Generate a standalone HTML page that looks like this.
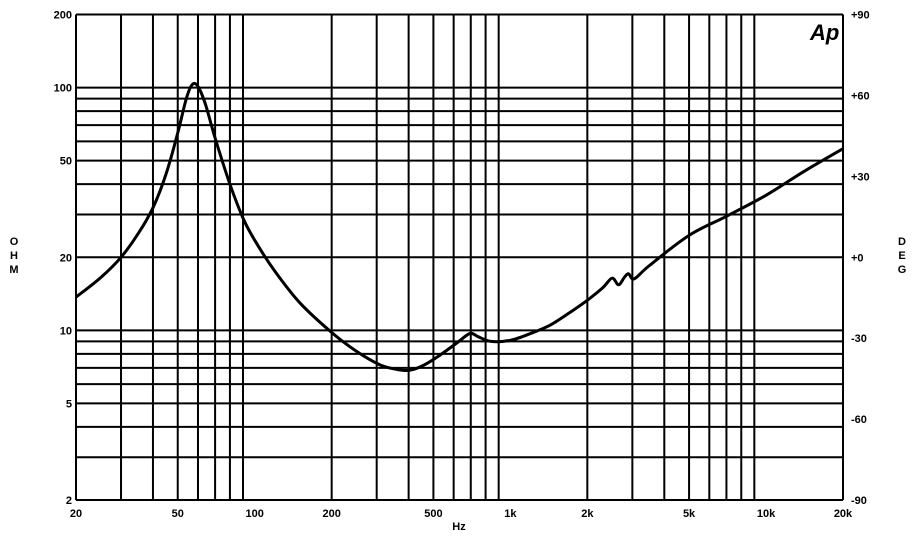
<!DOCTYPE html>
<html><head><meta charset="utf-8"><style>
body{margin:0;background:#fff;}
svg text{font-family:"Liberation Sans",sans-serif;font-weight:bold;font-size:11px;fill:#000;}
</style></head><body>
<svg id="chart" width="918" height="541" xmlns="http://www.w3.org/2000/svg">
<g id="grid"></g>
<g id="labels"></g>
<path id="curve" fill="none" stroke="#000" stroke-width="3" stroke-linejoin="round"/>
<text x="810" y="40" style="font-size:22px;font-style:italic;font-weight:bold">Ap</text>
</svg>
<script>
const freqs=[20,25,30,35,40,45,50,54,57,60,64,70,80,90,100,120,150,200,250,310,360,405,460,530,620,695,750,840,1000,1200,1430,1700,2000,2300,2500,2650,2800,2900,3050,3500,5000,7000,10000,14000,20000];
const ohms=[13.7,16.5,20,25,32,44,65,90,103,101,86,62,40,29,23.5,17.5,13,9.8,8.2,7.2,6.9,6.85,7.2,7.9,8.9,9.7,9.4,9.0,9.1,9.7,10.5,11.8,13.3,15,16.4,15.4,16.6,17.1,16.3,18.5,24.6,29.5,36,45,56];
const xTicks=[20,50,100,200,500,1000,2000,5000,10000,20000];
const xTickLabels=["20","50","100","200","500","1k","2k","5k","10k","20k"];
const yTicks=[2,5,10,20,50,100,200];
const yTickLabels=["2","5","10","20","50","100","200"];
const degLabels=["+90","+60","+30","+0","-30","-60","-90"];
const L=76,R=843,T=14.5,B=500;
const xs=f=>L+(R-L)*Math.log10(f/20)/3;
const ys=v=>B-(B-T)*Math.log10(v/2)/2;
const ns="http://www.w3.org/2000/svg";
const grid=document.getElementById('grid'),lab=document.getElementById('labels');
function line(x1,y1,x2,y2,name){const l=document.createElementNS(ns,'line');
l.setAttribute('x1',x1);l.setAttribute('y1',y1);l.setAttribute('x2',x2);l.setAttribute('y2',y2);
l.setAttribute('stroke','#000');l.setAttribute('stroke-width','2');


grid.appendChild(l);}
function txt(x,y,s,anchor,name){const t=document.createElementNS(ns,'text');
t.setAttribute('x',x);t.setAttribute('y',y);t.setAttribute('text-anchor',anchor);t.textContent=s;


lab.appendChild(t);}
[20,30,40,50,60,70,80,90].forEach(m=>[1,10,100].forEach(d=>{const f=m*d;if(f<=20000)line(xs(f),T,xs(f),B,'v-gridline');}));
line(xs(20000),T,xs(20000),B,'v-gridline');
[3,4,5,6,7,8,9,10,20,30,40,50,60,70,80,90,100,200].forEach(v=>line(L,ys(v),R,ys(v),'h-gridline'));
line(L,B,R,B,'x-axis');
xTicks.forEach((f,i)=>txt(xs(f),517,xTickLabels[i],'middle','x-tick-label'));
yTicks.forEach((v,i)=>txt(L-4,ys(v)+4,yTickLabels[i],'end','y-tick-label'));
degLabels.forEach((s,i)=>txt(R+8,T+(B-T)*i/6+4,s,'start','deg-tick-label'));
txt(459,530,'Hz','middle','x-axis-title');
['O','H','M'].forEach((c,i)=>txt(14,245+i*14,c,'middle','y-axis-title'));
['D','E','G'].forEach((c,i)=>txt(902,245+i*14,c,'middle','y2-axis-title'));
const P=freqs.map((f,i)=>[xs(f),ys(ohms[i])]);
let d='M'+P[0][0].toFixed(1)+','+P[0][1].toFixed(1);
for(let i=0;i<P.length-1;i++){const p0=P[Math.max(0,i-1)],p1=P[i],p2=P[i+1],p3=P[Math.min(P.length-1,i+2)];
const c1=[p1[0]+(p2[0]-p0[0])/6,p1[1]+(p2[1]-p0[1])/6],c2=[p2[0]-(p3[0]-p1[0])/6,p2[1]-(p3[1]-p1[1])/6];
d+='C'+c1.map(v=>v.toFixed(1)).join(',')+' '+c2.map(v=>v.toFixed(1)).join(',')+' '+p2.map(v=>v.toFixed(1)).join(',');}
document.getElementById('curve').setAttribute('d',d);
</script>
</body></html>
